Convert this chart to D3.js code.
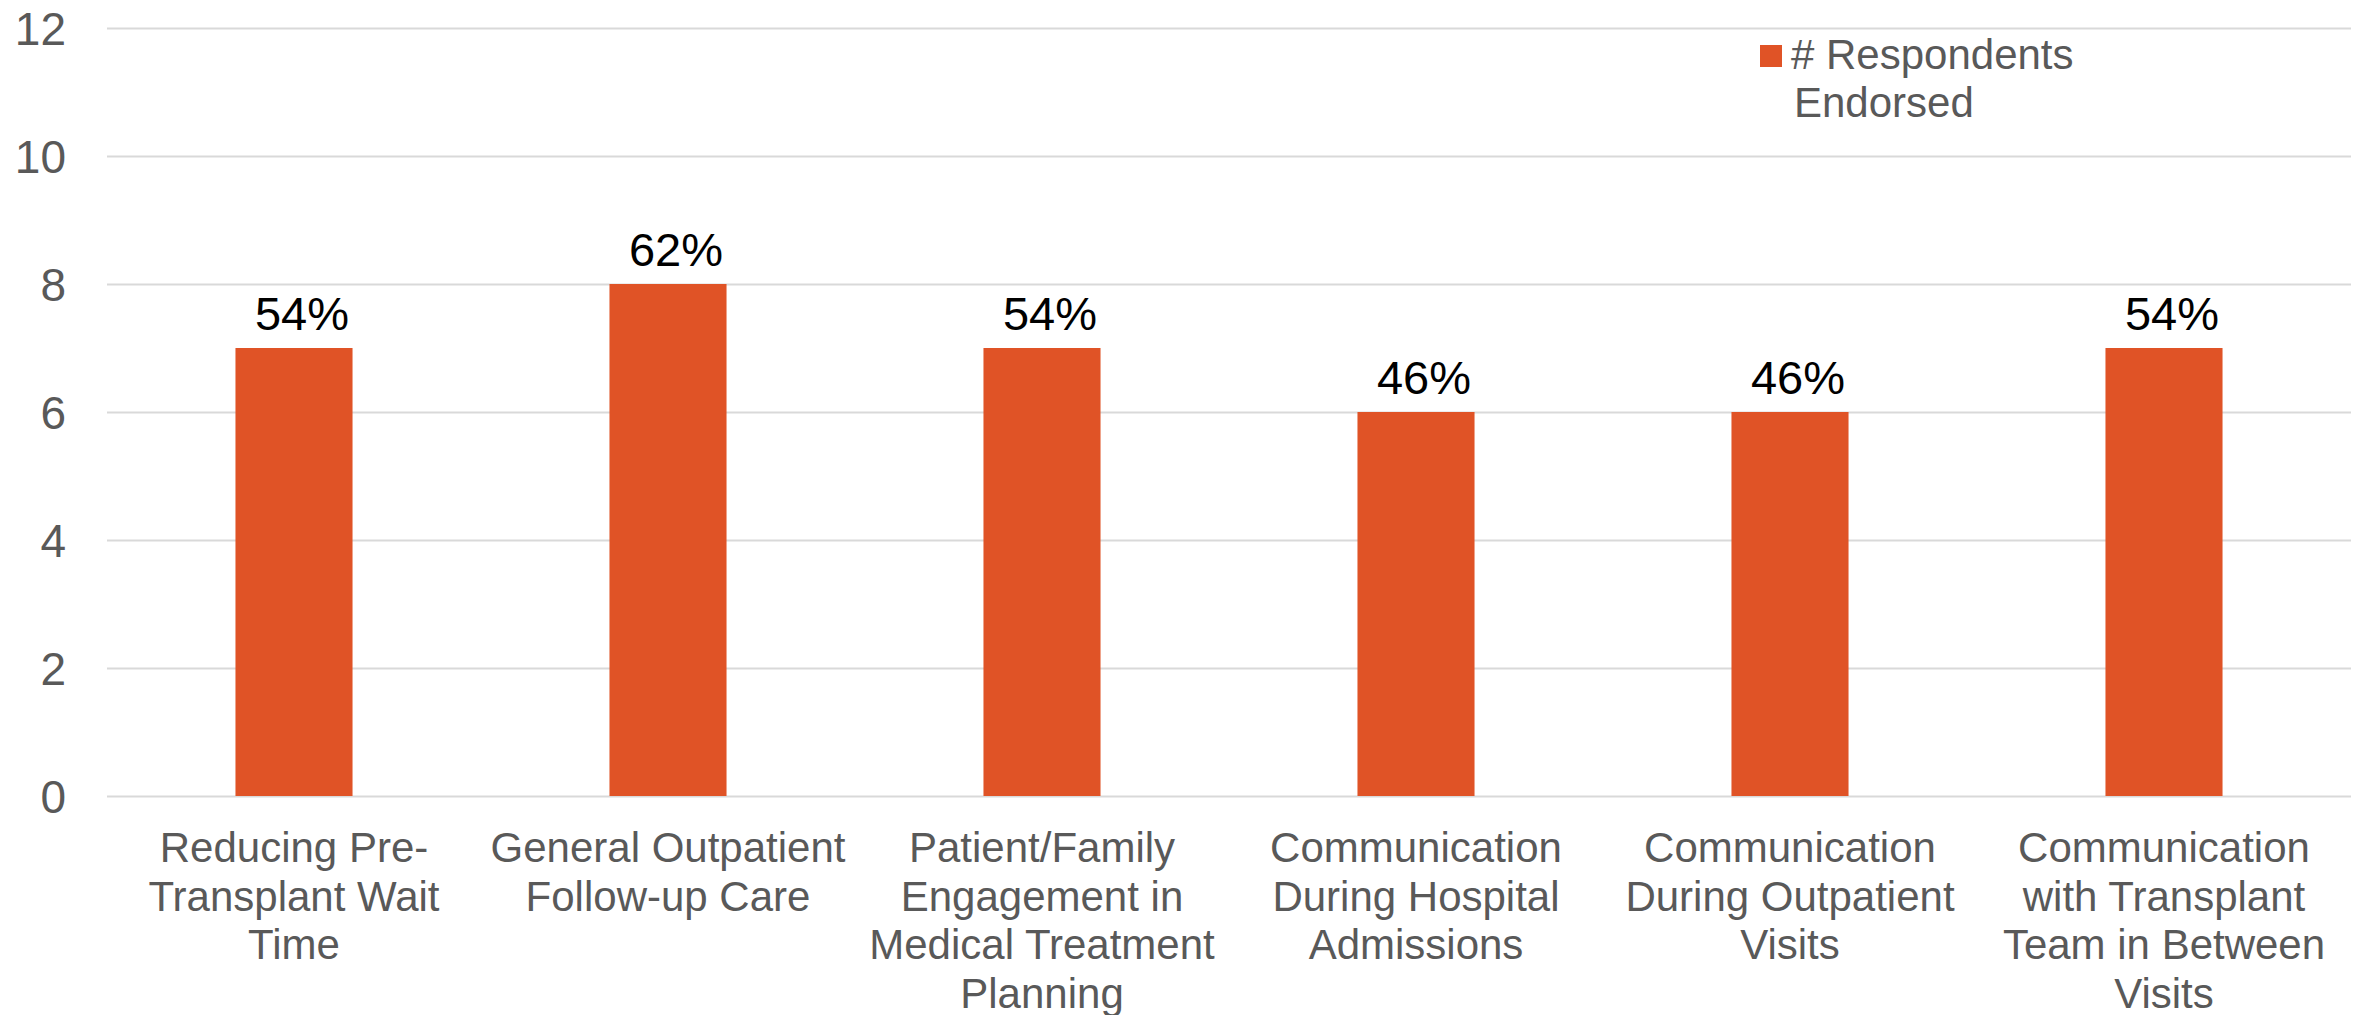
<!DOCTYPE html>
<html>
<head>
<meta charset="utf-8">
<script src="https://cdn.jsdelivr.net/npm/d3@7"></script>
<style>
  html, body { margin: 0; padding: 0; background: #fff; }
  svg { display: block; }
  text { font-family: "Liberation Sans", Arial, sans-serif; }
</style>
</head>
<body>
<svg id="chart" width="2364" height="1015"></svg>
<script>
const categories = [
  "Reducing Pre-\nTransplant Wait\nTime",
  "General Outpatient\nFollow-up Care",
  "Patient/Family\nEngagement in\nMedical Treatment\nPlanning",
  "Communication\nDuring Hospital\nAdmissions",
  "Communication\nDuring Outpatient\nVisits",
  "Communication\nwith Transplant\nTeam in Between\nVisits"
];
const respondents = [7, 8, 7, 6, 6, 7];
const percentLabels = ["54%", "62%", "54%", "46%", "46%", "54%"];
const yTicks = [0, 2, 4, 6, 8, 10, 12];
const seriesName = ["# Respondents", "Endorsed"];

const plotLeft = 107, plotRight = 2351, plotTop = 28, plotBottom = 796;
const barColor = "#E05326";
const gridColor = "#D9D9D9";
const textColor = "#595959";

const svg = d3.select("#chart");

const x = d3.scaleBand()
  .domain(d3.range(categories.length))
  .range([plotLeft, plotRight])
  .paddingInner(0.687)
  .paddingOuter(0.3435);

const y = d3.scaleLinear().domain([0, 12]).range([plotBottom, plotTop]);

// gridlines
const grid = svg.append("g")
  .attr("transform", `translate(${plotLeft},0)`)
  .call(d3.axisLeft(y).tickValues(yTicks).tickSize(-(plotRight - plotLeft)).tickFormat(""));
grid.select(".domain").remove();
grid.selectAll("line").attr("stroke", gridColor).attr("stroke-width", 2);

// y tick labels
const yAxis = svg.append("g")
  .attr("transform", `translate(${plotLeft},0)`)
  .call(d3.axisLeft(y).tickValues(yTicks).tickSize(0).tickPadding(41));
yAxis.select(".domain").remove();
yAxis.selectAll("text")
  .attr("fill", textColor)
  .style("font-size", "46px")
  .attr("dy", "0.36em");

// bars
svg.append("g").selectAll("rect")
  .data(respondents)
  .join("rect")
  .attr("x", (d, i) => x(i))
  .attr("width", x.bandwidth())
  .attr("y", d => y(d))
  .attr("height", d => y(0) - y(d))
  .attr("fill", barColor);

// data labels
svg.append("g").selectAll("text")
  .data(respondents)
  .join("text")
  .attr("x", (d, i) => x(i) + x.bandwidth() / 2 + 8)
  .attr("y", d => y(d) - 18)
  .attr("text-anchor", "middle")
  .attr("fill", "#000")
  .style("font-size", "47px")
  .text((d, i) => percentLabels[i]);

// category labels
const cat = svg.append("g").selectAll("text")
  .data(categories)
  .join("text")
  .attr("x", (d, i) => x(i) + x.bandwidth() / 2)
  .attr("y", plotBottom + 66)
  .attr("text-anchor", "middle")
  .attr("fill", textColor)
  .style("font-size", "42px");
cat.each(function(d, i) {
  const t = d3.select(this);
  const cx = x(i) + x.bandwidth() / 2;
  d.split("\n").forEach((line, k) => {
    t.append("tspan").attr("x", cx).attr("dy", k === 0 ? 0 : 48.5).text(line);
  });
});

// legend
const lg = svg.append("g");
lg.append("rect")
  .attr("x", 1760).attr("y", 45).attr("width", 22).attr("height", 22)
  .attr("fill", barColor);
const lt = lg.append("text")
  .attr("x", 1791).attr("y", 69)
  .attr("fill", textColor)
  .style("font-size", "42px");
seriesName.forEach((s, k) => {
  lt.append("tspan").attr("x", k === 0 ? 1791 : 1794).attr("dy", k === 0 ? 0 : 48).text(s);
});
</script>
</body>
</html>
